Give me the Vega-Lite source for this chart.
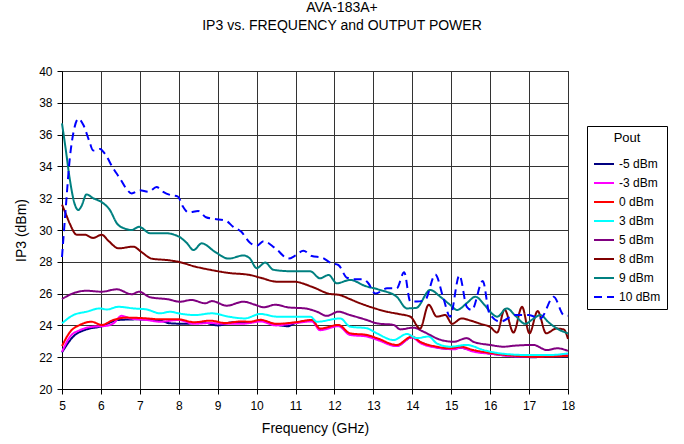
{
  "$schema": "https://vega.github.io/schema/vega-lite/v6.json",
  "width": 506,
  "height": 318,
  "autosize": "none",
  "padding": {"left": 62, "top": 71, "right": 116, "bottom": 55},
  "background": "white",
  "title": {
    "text": ["AVA-183A+", "IP3 vs. FREQUENCY and OUTPUT POWER"],
    "font": "Liberation Sans",
    "fontSize": 14,
    "fontWeight": "normal",
    "color": "black",
    "lineHeight": 18,
    "anchor": "middle",
    "dx": 27,
    "offset": 32,
    "frame": "group"
  },
  "config": {
    "view": {"stroke": "black", "strokeWidth": 1},
    "font": "Liberation Sans"
  },
  "data": {
    "values": [
      {"p": "-5 dBm", "f": 5.0, "v": 22.3}, {"p": "-5 dBm", "f": 5.29, "v": 23.3}, {"p": "-5 dBm", "f": 5.63, "v": 23.75}, {"p": "-5 dBm", "f": 5.98, "v": 23.92}, {"p": "-5 dBm", "f": 6.45, "v": 24.34}, {"p": "-5 dBm", "f": 6.92, "v": 24.38}, {"p": "-5 dBm", "f": 7.52, "v": 24.3}, {"p": "-5 dBm", "f": 7.78, "v": 24.13}, {"p": "-5 dBm", "f": 8.2, "v": 24.1}, {"p": "-5 dBm", "f": 8.6, "v": 24.2}, {"p": "-5 dBm", "f": 9.0, "v": 24.0}, {"p": "-5 dBm", "f": 9.4, "v": 24.2}, {"p": "-5 dBm", "f": 9.83, "v": 24.2}, {"p": "-5 dBm", "f": 10.1, "v": 24.3}, {"p": "-5 dBm", "f": 10.5, "v": 24.05}, {"p": "-5 dBm", "f": 10.8, "v": 23.95}, {"p": "-5 dBm", "f": 11.0, "v": 24.15}, {"p": "-5 dBm", "f": 11.42, "v": 24.3}, {"p": "-5 dBm", "f": 11.63, "v": 23.75}, {"p": "-5 dBm", "f": 12.1, "v": 24.0}, {"p": "-5 dBm", "f": 12.4, "v": 23.45}, {"p": "-5 dBm", "f": 12.83, "v": 23.35}, {"p": "-5 dBm", "f": 13.09, "v": 23.15}, {"p": "-5 dBm", "f": 13.6, "v": 22.72}, {"p": "-5 dBm", "f": 13.99, "v": 23.25}, {"p": "-5 dBm", "f": 14.2, "v": 22.95}, {"p": "-5 dBm", "f": 14.63, "v": 22.62}, {"p": "-5 dBm", "f": 14.97, "v": 22.52}, {"p": "-5 dBm", "f": 15.23, "v": 22.6}, {"p": "-5 dBm", "f": 15.57, "v": 22.4}, {"p": "-5 dBm", "f": 16.08, "v": 22.2}, {"p": "-5 dBm", "f": 16.68, "v": 22.05}, {"p": "-5 dBm", "f": 17.11, "v": 22.0}, {"p": "-5 dBm", "f": 17.6, "v": 22.05}, {"p": "-5 dBm", "f": 18.0, "v": 22.05},

      {"p": "-3 dBm", "f": 5.0, "v": 22.34}, {"p": "-3 dBm", "f": 5.21, "v": 23.3}, {"p": "-3 dBm", "f": 5.46, "v": 23.7}, {"p": "-3 dBm", "f": 5.8, "v": 23.92}, {"p": "-3 dBm", "f": 6.1, "v": 23.96}, {"p": "-3 dBm", "f": 6.32, "v": 24.13}, {"p": "-3 dBm", "f": 6.53, "v": 24.6}, {"p": "-3 dBm", "f": 6.75, "v": 24.44}, {"p": "-3 dBm", "f": 7.18, "v": 24.34}, {"p": "-3 dBm", "f": 7.52, "v": 24.23}, {"p": "-3 dBm", "f": 7.99, "v": 24.34}, {"p": "-3 dBm", "f": 8.4, "v": 24.1}, {"p": "-3 dBm", "f": 8.8, "v": 24.15}, {"p": "-3 dBm", "f": 9.2, "v": 24.1}, {"p": "-3 dBm", "f": 9.6, "v": 24.1}, {"p": "-3 dBm", "f": 9.83, "v": 24.15}, {"p": "-3 dBm", "f": 10.1, "v": 24.25}, {"p": "-3 dBm", "f": 10.5, "v": 24.0}, {"p": "-3 dBm", "f": 11.0, "v": 24.15}, {"p": "-3 dBm", "f": 11.42, "v": 24.25}, {"p": "-3 dBm", "f": 11.63, "v": 23.7}, {"p": "-3 dBm", "f": 12.1, "v": 23.95}, {"p": "-3 dBm", "f": 12.4, "v": 23.4}, {"p": "-3 dBm", "f": 12.83, "v": 23.3}, {"p": "-3 dBm", "f": 13.09, "v": 23.1}, {"p": "-3 dBm", "f": 13.6, "v": 22.7}, {"p": "-3 dBm", "f": 13.99, "v": 23.25}, {"p": "-3 dBm", "f": 14.2, "v": 22.9}, {"p": "-3 dBm", "f": 14.63, "v": 22.6}, {"p": "-3 dBm", "f": 15.1, "v": 22.5}, {"p": "-3 dBm", "f": 15.23, "v": 22.6}, {"p": "-3 dBm", "f": 15.57, "v": 22.35}, {"p": "-3 dBm", "f": 16.08, "v": 22.2}, {"p": "-3 dBm", "f": 16.68, "v": 22.05}, {"p": "-3 dBm", "f": 17.11, "v": 22.05}, {"p": "-3 dBm", "f": 17.6, "v": 22.1}, {"p": "-3 dBm", "f": 18.0, "v": 22.2},

      {"p": "0 dBm", "f": 5.0, "v": 22.7}, {"p": "0 dBm", "f": 5.21, "v": 23.6}, {"p": "0 dBm", "f": 5.46, "v": 24.03}, {"p": "0 dBm", "f": 5.76, "v": 24.23}, {"p": "0 dBm", "f": 6.02, "v": 24.03}, {"p": "0 dBm", "f": 6.32, "v": 24.34}, {"p": "0 dBm", "f": 6.66, "v": 24.49}, {"p": "0 dBm", "f": 7.18, "v": 24.44}, {"p": "0 dBm", "f": 7.52, "v": 24.38}, {"p": "0 dBm", "f": 7.99, "v": 24.38}, {"p": "0 dBm", "f": 8.4, "v": 24.2}, {"p": "0 dBm", "f": 8.8, "v": 24.3}, {"p": "0 dBm", "f": 9.2, "v": 24.15}, {"p": "0 dBm", "f": 9.6, "v": 24.25}, {"p": "0 dBm", "f": 9.83, "v": 24.23}, {"p": "0 dBm", "f": 10.1, "v": 24.35}, {"p": "0 dBm", "f": 10.5, "v": 24.1}, {"p": "0 dBm", "f": 11.0, "v": 24.2}, {"p": "0 dBm", "f": 11.42, "v": 24.34}, {"p": "0 dBm", "f": 11.63, "v": 23.8}, {"p": "0 dBm", "f": 12.1, "v": 24.03}, {"p": "0 dBm", "f": 12.4, "v": 23.5}, {"p": "0 dBm", "f": 12.83, "v": 23.4}, {"p": "0 dBm", "f": 13.09, "v": 23.2}, {"p": "0 dBm", "f": 13.6, "v": 22.77}, {"p": "0 dBm", "f": 13.99, "v": 23.3}, {"p": "0 dBm", "f": 14.2, "v": 22.97}, {"p": "0 dBm", "f": 14.63, "v": 22.66}, {"p": "0 dBm", "f": 14.97, "v": 22.56}, {"p": "0 dBm", "f": 15.23, "v": 22.66}, {"p": "0 dBm", "f": 15.57, "v": 22.45}, {"p": "0 dBm", "f": 16.08, "v": 22.24}, {"p": "0 dBm", "f": 16.68, "v": 22.08}, {"p": "0 dBm", "f": 17.11, "v": 22.03}, {"p": "0 dBm", "f": 17.6, "v": 22.05}, {"p": "0 dBm", "f": 18.0, "v": 22.08},

      {"p": "3 dBm", "f": 5.0, "v": 24.13}, {"p": "3 dBm", "f": 5.29, "v": 24.65}, {"p": "3 dBm", "f": 5.63, "v": 24.86}, {"p": "3 dBm", "f": 5.98, "v": 25.07}, {"p": "3 dBm", "f": 6.15, "v": 25.0}, {"p": "3 dBm", "f": 6.45, "v": 25.17}, {"p": "3 dBm", "f": 6.83, "v": 25.07}, {"p": "3 dBm", "f": 7.18, "v": 25.0}, {"p": "3 dBm", "f": 7.52, "v": 24.76}, {"p": "3 dBm", "f": 7.78, "v": 24.86}, {"p": "3 dBm", "f": 7.99, "v": 24.76}, {"p": "3 dBm", "f": 8.42, "v": 24.65}, {"p": "3 dBm", "f": 8.85, "v": 24.76}, {"p": "3 dBm", "f": 9.28, "v": 24.55}, {"p": "3 dBm", "f": 9.7, "v": 24.44}, {"p": "3 dBm", "f": 10.09, "v": 24.72}, {"p": "3 dBm", "f": 10.52, "v": 24.55}, {"p": "3 dBm", "f": 11.38, "v": 24.55}, {"p": "3 dBm", "f": 11.55, "v": 24.23}, {"p": "3 dBm", "f": 12.15, "v": 24.44}, {"p": "3 dBm", "f": 12.4, "v": 23.92}, {"p": "3 dBm", "f": 12.83, "v": 23.82}, {"p": "3 dBm", "f": 13.09, "v": 23.5}, {"p": "3 dBm", "f": 13.52, "v": 23.08}, {"p": "3 dBm", "f": 13.86, "v": 23.46}, {"p": "3 dBm", "f": 14.12, "v": 23.2}, {"p": "3 dBm", "f": 14.42, "v": 23.3}, {"p": "3 dBm", "f": 14.63, "v": 22.87}, {"p": "3 dBm", "f": 14.97, "v": 22.66}, {"p": "3 dBm", "f": 15.4, "v": 22.77}, {"p": "3 dBm", "f": 15.83, "v": 22.45}, {"p": "3 dBm", "f": 16.26, "v": 22.24}, {"p": "3 dBm", "f": 16.94, "v": 22.14}, {"p": "3 dBm", "f": 17.54, "v": 22.14}, {"p": "3 dBm", "f": 18.0, "v": 22.24},

      {"p": "5 dBm", "f": 5.0, "v": 25.66}, {"p": "5 dBm", "f": 5.33, "v": 26.06}, {"p": "5 dBm", "f": 5.63, "v": 26.18}, {"p": "5 dBm", "f": 6.02, "v": 26.12}, {"p": "5 dBm", "f": 6.41, "v": 26.27}, {"p": "5 dBm", "f": 6.79, "v": 25.96}, {"p": "5 dBm", "f": 6.98, "v": 26.12}, {"p": "5 dBm", "f": 7.26, "v": 25.77}, {"p": "5 dBm", "f": 7.73, "v": 25.64}, {"p": "5 dBm", "f": 8.03, "v": 25.49}, {"p": "5 dBm", "f": 8.33, "v": 25.6}, {"p": "5 dBm", "f": 8.68, "v": 25.39}, {"p": "5 dBm", "f": 8.85, "v": 25.53}, {"p": "5 dBm", "f": 9.23, "v": 25.24}, {"p": "5 dBm", "f": 9.66, "v": 25.49}, {"p": "5 dBm", "f": 9.96, "v": 25.3}, {"p": "5 dBm", "f": 10.18, "v": 25.14}, {"p": "5 dBm", "f": 10.48, "v": 25.3}, {"p": "5 dBm", "f": 10.82, "v": 25.13}, {"p": "5 dBm", "f": 11.25, "v": 25.07}, {"p": "5 dBm", "f": 11.55, "v": 24.86}, {"p": "5 dBm", "f": 11.8, "v": 24.6}, {"p": "5 dBm", "f": 12.1, "v": 24.86}, {"p": "5 dBm", "f": 12.4, "v": 24.65}, {"p": "5 dBm", "f": 12.83, "v": 24.34}, {"p": "5 dBm", "f": 13.09, "v": 24.13}, {"p": "5 dBm", "f": 13.52, "v": 24.03}, {"p": "5 dBm", "f": 13.69, "v": 23.75}, {"p": "5 dBm", "f": 14.03, "v": 23.86}, {"p": "5 dBm", "f": 14.29, "v": 23.6}, {"p": "5 dBm", "f": 14.72, "v": 23.1}, {"p": "5 dBm", "f": 15.06, "v": 22.97}, {"p": "5 dBm", "f": 15.4, "v": 23.2}, {"p": "5 dBm", "f": 15.57, "v": 22.97}, {"p": "5 dBm", "f": 16.0, "v": 22.77}, {"p": "5 dBm", "f": 16.35, "v": 22.66}, {"p": "5 dBm", "f": 16.6, "v": 22.72}, {"p": "5 dBm", "f": 17.11, "v": 22.77}, {"p": "5 dBm", "f": 17.46, "v": 22.45}, {"p": "5 dBm", "f": 17.72, "v": 22.56}, {"p": "5 dBm", "f": 18.0, "v": 22.4},

      {"p": "8 dBm", "f": 5.0, "v": 31.6}, {"p": "8 dBm", "f": 5.1, "v": 31.0}, {"p": "8 dBm", "f": 5.2, "v": 30.4}, {"p": "8 dBm", "f": 5.38, "v": 29.7}, {"p": "8 dBm", "f": 5.59, "v": 29.7}, {"p": "8 dBm", "f": 5.8, "v": 29.5}, {"p": "8 dBm", "f": 6.02, "v": 29.7}, {"p": "8 dBm", "f": 6.2, "v": 29.3}, {"p": "8 dBm", "f": 6.45, "v": 28.85}, {"p": "8 dBm", "f": 6.83, "v": 28.95}, {"p": "8 dBm", "f": 7.05, "v": 28.6}, {"p": "8 dBm", "f": 7.3, "v": 28.2}, {"p": "8 dBm", "f": 7.73, "v": 28.1}, {"p": "8 dBm", "f": 7.99, "v": 28.0}, {"p": "8 dBm", "f": 8.42, "v": 27.7}, {"p": "8 dBm", "f": 8.8, "v": 27.5}, {"p": "8 dBm", "f": 9.28, "v": 27.3}, {"p": "8 dBm", "f": 9.83, "v": 27.17}, {"p": "8 dBm", "f": 10.1, "v": 27.0}, {"p": "8 dBm", "f": 10.52, "v": 26.75}, {"p": "8 dBm", "f": 10.95, "v": 26.75}, {"p": "8 dBm", "f": 11.42, "v": 26.43}, {"p": "8 dBm", "f": 11.85, "v": 26.0}, {"p": "8 dBm", "f": 12.15, "v": 25.9}, {"p": "8 dBm", "f": 12.4, "v": 25.65}, {"p": "8 dBm", "f": 12.66, "v": 25.39}, {"p": "8 dBm", "f": 13.0, "v": 25.1}, {"p": "8 dBm", "f": 13.35, "v": 24.86}, {"p": "8 dBm", "f": 13.69, "v": 24.7}, {"p": "8 dBm", "f": 13.95, "v": 24.55}, {"p": "8 dBm", "f": 14.2, "v": 23.8}, {"p": "8 dBm", "f": 14.42, "v": 25.3}, {"p": "8 dBm", "f": 14.63, "v": 24.55}, {"p": "8 dBm", "f": 14.85, "v": 24.65}, {"p": "8 dBm", "f": 15.02, "v": 24.1}, {"p": "8 dBm", "f": 15.27, "v": 24.44}, {"p": "8 dBm", "f": 15.5, "v": 24.3}, {"p": "8 dBm", "f": 15.75, "v": 24.1}, {"p": "8 dBm", "f": 16.0, "v": 23.9}, {"p": "8 dBm", "f": 16.18, "v": 23.55}, {"p": "8 dBm", "f": 16.37, "v": 25.0}, {"p": "8 dBm", "f": 16.6, "v": 23.55}, {"p": "8 dBm", "f": 16.82, "v": 25.17}, {"p": "8 dBm", "f": 17.01, "v": 23.5}, {"p": "8 dBm", "f": 17.22, "v": 24.9}, {"p": "8 dBm", "f": 17.44, "v": 23.5}, {"p": "8 dBm", "f": 17.7, "v": 23.8}, {"p": "8 dBm", "f": 17.89, "v": 23.75}, {"p": "8 dBm", "f": 18.0, "v": 23.15},

      {"p": "9 dBm", "f": 5.0, "v": 36.7}, {"p": "9 dBm", "f": 5.1, "v": 35.0}, {"p": "9 dBm", "f": 5.2, "v": 33.2}, {"p": "9 dBm", "f": 5.33, "v": 31.6}, {"p": "9 dBm", "f": 5.42, "v": 31.26}, {"p": "9 dBm", "f": 5.5, "v": 31.5}, {"p": "9 dBm", "f": 5.63, "v": 32.24}, {"p": "9 dBm", "f": 5.8, "v": 32.0}, {"p": "9 dBm", "f": 6.02, "v": 31.75}, {"p": "9 dBm", "f": 6.23, "v": 31.26}, {"p": "9 dBm", "f": 6.41, "v": 30.42}, {"p": "9 dBm", "f": 6.6, "v": 30.1}, {"p": "9 dBm", "f": 6.79, "v": 30.0}, {"p": "9 dBm", "f": 6.98, "v": 30.2}, {"p": "9 dBm", "f": 7.26, "v": 29.8}, {"p": "9 dBm", "f": 7.65, "v": 29.8}, {"p": "9 dBm", "f": 7.99, "v": 29.6}, {"p": "9 dBm", "f": 8.2, "v": 29.2}, {"p": "9 dBm", "f": 8.38, "v": 28.74}, {"p": "9 dBm", "f": 8.59, "v": 29.16}, {"p": "9 dBm", "f": 8.93, "v": 28.63}, {"p": "9 dBm", "f": 9.28, "v": 28.2}, {"p": "9 dBm", "f": 9.66, "v": 28.4}, {"p": "9 dBm", "f": 9.83, "v": 28.2}, {"p": "9 dBm", "f": 10.0, "v": 27.6}, {"p": "9 dBm", "f": 10.22, "v": 27.95}, {"p": "9 dBm", "f": 10.43, "v": 27.5}, {"p": "9 dBm", "f": 10.95, "v": 27.4}, {"p": "9 dBm", "f": 11.38, "v": 27.4}, {"p": "9 dBm", "f": 11.63, "v": 26.96}, {"p": "9 dBm", "f": 11.85, "v": 27.17}, {"p": "9 dBm", "f": 12.06, "v": 26.65}, {"p": "9 dBm", "f": 12.4, "v": 26.86}, {"p": "9 dBm", "f": 12.79, "v": 26.48}, {"p": "9 dBm", "f": 13.17, "v": 26.23}, {"p": "9 dBm", "f": 13.6, "v": 25.8}, {"p": "9 dBm", "f": 13.86, "v": 25.07}, {"p": "9 dBm", "f": 14.1, "v": 25.1}, {"p": "9 dBm", "f": 14.46, "v": 26.23}, {"p": "9 dBm", "f": 14.72, "v": 25.8}, {"p": "9 dBm", "f": 14.97, "v": 25.3}, {"p": "9 dBm", "f": 15.15, "v": 24.97}, {"p": "9 dBm", "f": 15.4, "v": 25.4}, {"p": "9 dBm", "f": 15.62, "v": 25.8}, {"p": "9 dBm", "f": 15.85, "v": 25.3}, {"p": "9 dBm", "f": 16.0, "v": 24.86}, {"p": "9 dBm", "f": 16.18, "v": 24.55}, {"p": "9 dBm", "f": 16.43, "v": 25.07}, {"p": "9 dBm", "f": 16.65, "v": 24.6}, {"p": "9 dBm", "f": 16.9, "v": 24.1}, {"p": "9 dBm", "f": 17.1, "v": 24.4}, {"p": "9 dBm", "f": 17.29, "v": 24.65}, {"p": "9 dBm", "f": 17.5, "v": 24.2}, {"p": "9 dBm", "f": 17.72, "v": 23.8}, {"p": "9 dBm", "f": 18.0, "v": 23.5},

      {"p": "10 dBm", "f": 5.0, "v": 28.3}, {"p": "10 dBm", "f": 5.1, "v": 31.5}, {"p": "10 dBm", "f": 5.2, "v": 34.5}, {"p": "10 dBm", "f": 5.3, "v": 36.2}, {"p": "10 dBm", "f": 5.42, "v": 37.0}, {"p": "10 dBm", "f": 5.55, "v": 36.6}, {"p": "10 dBm", "f": 5.7, "v": 35.6}, {"p": "10 dBm", "f": 5.8, "v": 35.0}, {"p": "10 dBm", "f": 5.98, "v": 35.1}, {"p": "10 dBm", "f": 6.1, "v": 34.8}, {"p": "10 dBm", "f": 6.31, "v": 33.9}, {"p": "10 dBm", "f": 6.5, "v": 33.2}, {"p": "10 dBm", "f": 6.65, "v": 32.6}, {"p": "10 dBm", "f": 6.79, "v": 32.3}, {"p": "10 dBm", "f": 7.0, "v": 32.5}, {"p": "10 dBm", "f": 7.22, "v": 32.4}, {"p": "10 dBm", "f": 7.43, "v": 32.7}, {"p": "10 dBm", "f": 7.6, "v": 32.4}, {"p": "10 dBm", "f": 7.78, "v": 32.2}, {"p": "10 dBm", "f": 7.98, "v": 32.1}, {"p": "10 dBm", "f": 8.1, "v": 31.5}, {"p": "10 dBm", "f": 8.25, "v": 31.1}, {"p": "10 dBm", "f": 8.5, "v": 31.2}, {"p": "10 dBm", "f": 8.7, "v": 30.8}, {"p": "10 dBm", "f": 8.9, "v": 30.7}, {"p": "10 dBm", "f": 9.2, "v": 30.6}, {"p": "10 dBm", "f": 9.4, "v": 30.2}, {"p": "10 dBm", "f": 9.6, "v": 29.9}, {"p": "10 dBm", "f": 9.83, "v": 29.2}, {"p": "10 dBm", "f": 10.0, "v": 29.0}, {"p": "10 dBm", "f": 10.18, "v": 29.3}, {"p": "10 dBm", "f": 10.48, "v": 28.85}, {"p": "10 dBm", "f": 10.82, "v": 28.2}, {"p": "10 dBm", "f": 11.0, "v": 28.4}, {"p": "10 dBm", "f": 11.2, "v": 28.7}, {"p": "10 dBm", "f": 11.42, "v": 28.36}, {"p": "10 dBm", "f": 11.68, "v": 28.26}, {"p": "10 dBm", "f": 11.93, "v": 27.9}, {"p": "10 dBm", "f": 12.1, "v": 27.8}, {"p": "10 dBm", "f": 12.32, "v": 27.0}, {"p": "10 dBm", "f": 12.55, "v": 26.9}, {"p": "10 dBm", "f": 12.75, "v": 26.9}, {"p": "10 dBm", "f": 12.87, "v": 26.65}, {"p": "10 dBm", "f": 13.05, "v": 26.0}, {"p": "10 dBm", "f": 13.35, "v": 26.33}, {"p": "10 dBm", "f": 13.6, "v": 26.33}, {"p": "10 dBm", "f": 13.79, "v": 27.35}, {"p": "10 dBm", "f": 13.95, "v": 25.5}, {"p": "10 dBm", "f": 14.12, "v": 25.5}, {"p": "10 dBm", "f": 14.33, "v": 25.6}, {"p": "10 dBm", "f": 14.59, "v": 27.2}, {"p": "10 dBm", "f": 14.8, "v": 25.7}, {"p": "10 dBm", "f": 14.97, "v": 24.55}, {"p": "10 dBm", "f": 15.21, "v": 27.15}, {"p": "10 dBm", "f": 15.4, "v": 25.17}, {"p": "10 dBm", "f": 15.53, "v": 24.97}, {"p": "10 dBm", "f": 15.81, "v": 26.8}, {"p": "10 dBm", "f": 15.98, "v": 24.76}, {"p": "10 dBm", "f": 16.26, "v": 24.23}, {"p": "10 dBm", "f": 16.64, "v": 24.65}, {"p": "10 dBm", "f": 16.99, "v": 24.65}, {"p": "10 dBm", "f": 17.29, "v": 24.44}, {"p": "10 dBm", "f": 17.63, "v": 25.8}, {"p": "10 dBm", "f": 17.89, "v": 24.65}, {"p": "10 dBm", "f": 18.0, "v": 24.6}
    ]
  },
  "mark": {"type": "line", "strokeWidth": 2, "interpolate": "monotone"},
  "encoding": {
    "x": {
      "field": "f",
      "type": "quantitative",
      "scale": {"domain": [5, 18], "nice": false, "zero": false},
      "axis": {
        "title": "Frequency (GHz)",
        "values": [5, 6, 7, 8, 9, 10, 11, 12, 13, 14, 15, 16, 17, 18],
        "grid": true,
        "gridColor": "#333333",
        "gridOpacity": 1,
        "domainColor": "black",
        "tickColor": "black",
        "tickSize": 5,
        "labelFontSize": 12,
        "labelColor": "black",
        "labelPadding": 6,
        "labelFlush": false,
        "titleFontSize": 14,
        "titleFontWeight": "normal",
        "titleColor": "black",
        "titlePadding": 10
      }
    },
    "y": {
      "field": "v",
      "type": "quantitative",
      "scale": {"domain": [20, 40], "nice": false, "zero": false},
      "axis": {
        "title": "IP3 (dBm)",
        "values": [20, 22, 24, 26, 28, 30, 32, 34, 36, 38, 40],
        "grid": true,
        "gridColor": "#333333",
        "gridOpacity": 1,
        "domainColor": "black",
        "tickColor": "black",
        "tickSize": 5,
        "labelFontSize": 12,
        "labelColor": "black",
        "labelPadding": 5,
        "titleFontSize": 14,
        "titleFontWeight": "normal",
        "titleColor": "black",
        "titlePadding": 10
      }
    },
    "color": {
      "field": "p",
      "type": "nominal",
      "scale": {
        "domain": ["-5 dBm", "-3 dBm", "0 dBm", "3 dBm", "5 dBm", "8 dBm", "9 dBm", "10 dBm"],
        "range": ["#000080", "#FF00FF", "#FF0000", "#00FFFF", "#800080", "#800000", "#008080", "#0000FF"]
      },
      "legend": {
        "title": "Pout",
        "orient": "none",
        "legendX": 525,
        "legendY": 55,
        "strokeColor": "black",
        "fillColor": "white",
        "padding": 6,
        "symbolType": "stroke",
        "symbolSize": 400,
        "symbolStrokeWidth": 2,
        "rowPadding": 2,
        "labelFontSize": 12,
        "labelColor": "black",
        "titleFontSize": 13,
        "titleFontWeight": "normal",
        "titleColor": "black",
        "titleAnchor": "middle",
        "titlePadding": 8
      }
    },
    "strokeDash": {
      "field": "p",
      "type": "nominal",
      "scale": {
        "domain": ["-5 dBm", "-3 dBm", "0 dBm", "3 dBm", "5 dBm", "8 dBm", "9 dBm", "10 dBm"],
        "range": [[1, 0], [1, 0], [1, 0], [1, 0], [1, 0], [1, 0], [1, 0], [8, 5]]
      },
      "legend": {
        "title": "Pout",
        "orient": "none",
        "legendX": 525,
        "legendY": 55,
        "strokeColor": "black",
        "fillColor": "white",
        "padding": 6,
        "symbolType": "stroke",
        "symbolSize": 400,
        "symbolStrokeWidth": 2,
        "rowPadding": 2,
        "labelFontSize": 12,
        "labelColor": "black",
        "titleFontSize": 13,
        "titleFontWeight": "normal",
        "titleColor": "black",
        "titleAnchor": "middle",
        "titlePadding": 8
      }
    }
  }
}
